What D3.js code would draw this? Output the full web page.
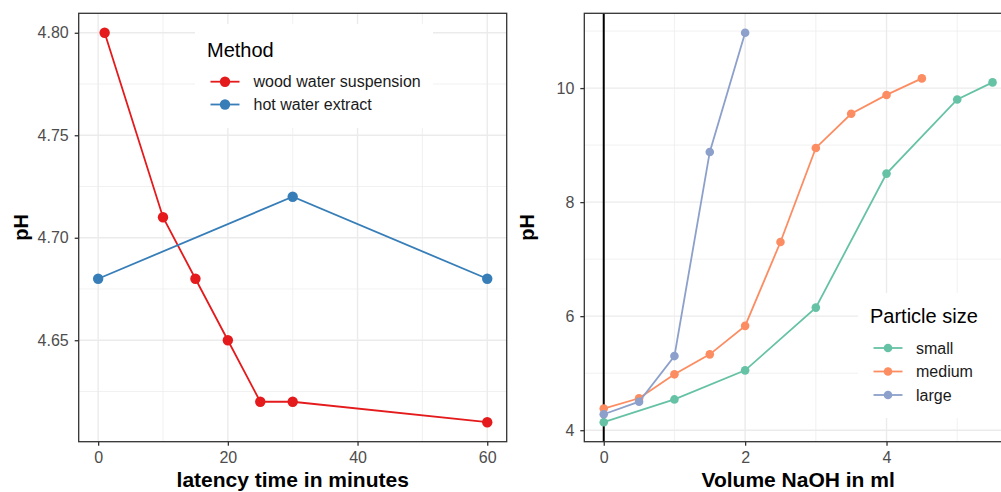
<!DOCTYPE html>
<html>
<head>
<meta charset="utf-8">
<script src="https://cdn.jsdelivr.net/npm/d3@7"></script>
<style>
    body { margin: 0; background: #fff; }
    svg { display: block; font-family: "Liberation Sans", Arial, sans-serif; }
</style>
</head>
<body>
<div id="chart"></div>
<script>
// left panel: pH over latency time
var methods = ["wood water suspension", "hot water extract"]
var woodTime = [1, 10, 15, 20, 25, 30, 60]
var woodPH = [4.80, 4.71, 4.68, 4.65, 4.62, 4.62, 4.61]
var hotTime = [0, 30, 60]
var hotPH = [4.68, 4.72, 4.68]
var leftXTicks = [0, 20, 40, 60]
var leftYTicks = [4.65, 4.70, 4.75, 4.80]

// right panel: titration curves
var sizes = ["small", "medium", "large"]
var smallVol = [0, 1, 2, 3, 4, 5, 5.5]
var smallPH = [4.14, 4.54, 5.05, 6.15, 8.5, 9.8, 10.1]
var mediumVol = [0, 0.5, 1, 1.5, 2, 2.5, 3, 3.5, 4, 4.5]
var mediumPH = [4.38, 4.56, 4.98, 5.33, 5.83, 7.3, 8.95, 9.55, 9.88, 10.17]
var largeVol = [0, 0.5, 1, 1.5, 2]
var largePH = [4.28, 4.5, 5.3, 8.88, 10.97]
var rightXTicks = [0, 2, 4]
var rightYTicks = [4, 6, 8, 10]

var width = 1001, height = 492
var svg = d3.select('#chart').append('svg')
    .attr('width', width)
    .attr('height', height)

svg.append('rect').attr('width', width).attr('height', height).attr('fill', '#fff')

function zip(xs, ys) {
    return xs.map(function(x, i) { return {x: x, y: ys[i]} })
}

// ggplot style 5% expansion
function expand(vals) {
    var lo = d3.min(vals), hi = d3.max(vals), pad = (hi - lo) * 0.05
    return [lo - pad, hi + pad]
}

function midpoints(ticks, domain) {
    var step = ticks[1] - ticks[0]
    var out = []
    for (var v = ticks[0] - step / 2; v <= domain[1]; v += step) {
        if (v >= domain[0]) out.push(v)
    }
    return out
}

function drawPanel(cfg) {
    var series = cfg.series
    var allX = [], allY = []
    series.forEach(function(s) { allX = allX.concat(s.xs); allY = allY.concat(s.ys) })
    var xDom = expand(allX), yDom = expand(allY)
    var xScale = d3.scaleLinear().domain(xDom).range([cfg.left, cfg.right])
    var yScale = d3.scaleLinear().domain(yDom).range([cfg.bottom, cfg.top])

    var g = svg.append('g')

    // grid
    midpoints(cfg.xTicks, xDom).forEach(function(v) {
        g.append('line').attr('x1', xScale(v)).attr('x2', xScale(v))
            .attr('y1', cfg.top).attr('y2', cfg.bottom)
            .attr('stroke', '#EBEBEB').attr('stroke-width', 0.7)
    })
    midpoints(cfg.yTicks, yDom).forEach(function(v) {
        g.append('line').attr('y1', yScale(v)).attr('y2', yScale(v))
            .attr('x1', cfg.left).attr('x2', cfg.right)
            .attr('stroke', '#EBEBEB').attr('stroke-width', 0.7)
    })
    cfg.xTicks.forEach(function(v) {
        g.append('line').attr('x1', xScale(v)).attr('x2', xScale(v))
            .attr('y1', cfg.top).attr('y2', cfg.bottom)
            .attr('stroke', '#EBEBEB').attr('stroke-width', 1.4)
    })
    cfg.yTicks.forEach(function(v) {
        g.append('line').attr('y1', yScale(v)).attr('y2', yScale(v))
            .attr('x1', cfg.left).attr('x2', cfg.right)
            .attr('stroke', '#EBEBEB').attr('stroke-width', 1.4)
    })

    if (cfg.vline !== undefined) {
        g.append('line').attr('x1', xScale(cfg.vline)).attr('x2', xScale(cfg.vline))
            .attr('y1', cfg.top).attr('y2', cfg.bottom)
            .attr('stroke', '#000').attr('stroke-width', 2)
    }

    var lineGen = d3.line()
        .x(function(d) { return xScale(d.x) })
        .y(function(d) { return yScale(d.y) })

    series.forEach(function(s) {
        var pts = zip(s.xs, s.ys)
        g.append('path')
            .attr('d', lineGen(pts))
            .attr('fill', 'none')
            .attr('stroke', s.color)
            .attr('stroke-width', cfg.lineWidth)
        g.selectAll(null).data(pts).enter().append('circle')
            .attr('cx', function(d) { return xScale(d.x) })
            .attr('cy', function(d) { return yScale(d.y) })
            .attr('r', cfg.radius)
            .attr('fill', s.color)
    })

    // border
    g.append('rect')
        .attr('x', cfg.left).attr('y', cfg.top)
        .attr('width', cfg.right - cfg.left).attr('height', cfg.bottom - cfg.top)
        .attr('fill', 'none').attr('stroke', '#333333').attr('stroke-width', 1.3)

    var xAxis = d3.axisBottom(xScale).tickValues(cfg.xTicks).tickSize(4).tickPadding(6)
        .tickFormat(d3.format('d'))
    var yAxis = d3.axisLeft(yScale).tickValues(cfg.yTicks).tickSize(4).tickPadding(6)
        .tickFormat(cfg.yFormat)
    var xa = g.append('g').attr('transform', 'translate(0,' + cfg.bottom + ')').call(xAxis)
    var ya = g.append('g').attr('transform', 'translate(' + cfg.left + ',0)').call(yAxis)
    ;[xa, ya].forEach(function(a) {
        a.select('.domain').remove()
        a.selectAll('line').attr('stroke', '#333333').attr('stroke-width', 1.3)
        a.selectAll('text').attr('fill', '#4D4D4D').style('font-size', '16px')
            .style('font-family', '"Liberation Sans", Arial, sans-serif')
    })

    g.append('text')
        .attr('x', (cfg.left + cfg.right) / 2)
        .attr('y', 486.5)
        .attr('text-anchor', 'middle')
        .style('font-size', '21px').style('font-weight', 'bold')
        .text(cfg.xTitle)
    g.append('text')
        .attr('transform', 'translate(' + cfg.yTitleX + ',' + ((cfg.top + cfg.bottom) / 2) + ') rotate(-90)')
        .attr('text-anchor', 'middle')
        .style('font-size', '20px').style('font-weight', 'bold')
        .text('pH')

    // legend inside panel
    var lg = cfg.legend
    g.append('rect')
        .attr('x', lg.box[0]).attr('y', lg.box[1])
        .attr('width', lg.box[2]).attr('height', lg.box[3])
        .attr('fill', '#fff')
    g.append('text')
        .attr('x', lg.titleX).attr('y', lg.titleY)
        .style('font-size', '20px')
        .text(lg.title)
    series.forEach(function(s, i) {
        var ky = lg.keyY[i]
        g.append('line')
            .attr('x1', lg.keyX - 14.5).attr('x2', lg.keyX + 14.5)
            .attr('y1', ky).attr('y2', ky)
            .attr('stroke', s.color).attr('stroke-width', cfg.lineWidth)
        g.append('circle').attr('cx', lg.keyX).attr('cy', ky)
            .attr('r', cfg.radius).attr('fill', s.color)
        g.append('text')
            .attr('x', lg.labelX).attr('y', ky)
            .attr('dy', '0.36em')
            .style('font-size', '16px')
            .attr('fill', '#1a1a1a')
            .text(s.name)
    })
}

drawPanel({
    left: 78.7, right: 506.7, top: 13.3, bottom: 441.7,
    xTicks: leftXTicks, yTicks: leftYTicks,
    yFormat: d3.format('.2f'),
    xTitle: 'latency time in minutes', yTitleX: 28,
    lineWidth: 1.8, radius: 5.2,
    series: [
        {name: methods[0], xs: woodTime, ys: woodPH, color: '#E41A1C'},
        {name: methods[1], xs: hotTime, ys: hotPH, color: '#377EB8'}
    ],
    legend: {
        box: [195, 24, 238, 104], title: 'Method', titleX: 207, titleY: 57,
        keyX: 225, keyY: [81.7, 104.5], labelX: 253.5
    }
})

drawPanel({
    left: 584.3, right: 1012, top: 13.3, bottom: 441.7,
    xTicks: rightXTicks, yTicks: rightYTicks,
    yFormat: d3.format('d'),
    xTitle: 'Volume NaOH in ml', yTitleX: 534,
    lineWidth: 1.8, radius: 4.3, vline: 0,
    series: [
        {name: sizes[0], xs: smallVol, ys: smallPH, color: '#66C2A5'},
        {name: sizes[1], xs: mediumVol, ys: mediumPH, color: '#FC8D62'},
        {name: sizes[2], xs: largeVol, ys: largePH, color: '#8DA0CB'}
    ],
    legend: {
        box: [858, 293, 160, 125], title: 'Particle size', titleX: 870, titleY: 323,
        keyX: 888, keyY: [348, 371.5, 395], labelX: 916
    }
})
</script>
</body>
</html>
